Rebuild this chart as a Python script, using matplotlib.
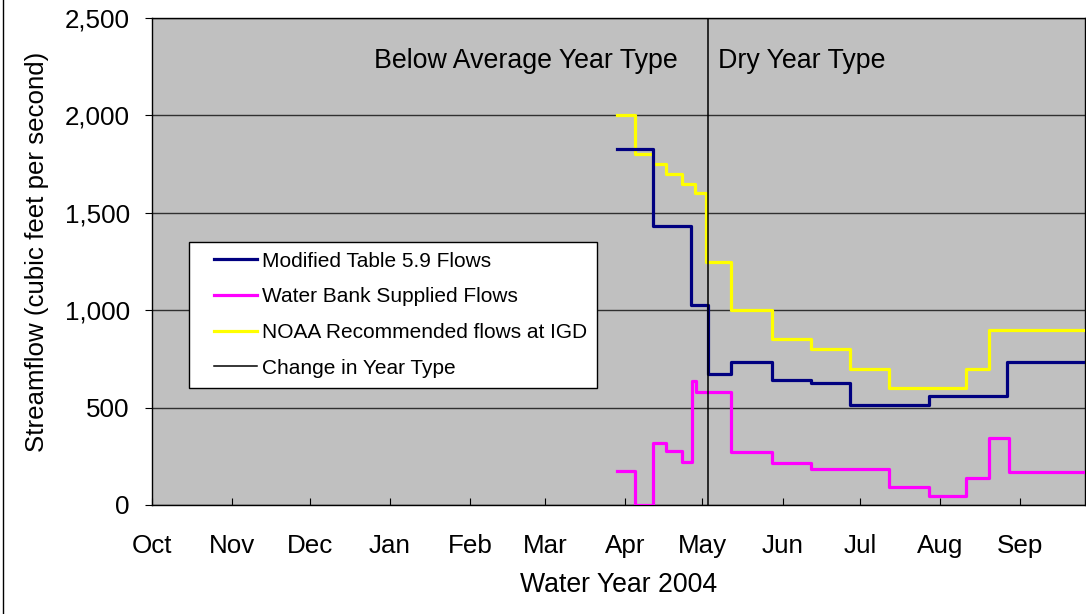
import numpy as np
import matplotlib.pyplot as plt
from matplotlib.lines import Line2D
from matplotlib.legend_handler import HandlerLine2D
from matplotlib.ticker import FuncFormatter

plt.rcParams['font.family'] = ['Liberation Sans', 'DejaVu Sans']

# days counted from 1 Oct 2003 (start of water year 2004)
month_labels = ['Oct', 'Nov', 'Dec', 'Jan', 'Feb', 'Mar', 'Apr', 'May', 'Jun', 'Jul', 'Aug', 'Sep']
month_starts = (np.arange('2003-10', '2004-10', dtype='datetime64[M]').astype('datetime64[D]')
                - np.datetime64('2003-10-01')).astype(int)

# step series: day the value starts, value (cfs)
modified_days = [180, 194, 208.5, 215, 224, 240, 255, 270, 300.5, 331, 361]
modified_cfs = [1825, 1430, 1025, 675, 735, 640, 625, 515, 560, 735, 735]

bank_days = [180, 187, 194, 199, 205, 209, 210.5, 224, 240, 255, 285, 300.5, 315, 324, 331.5, 361]
bank_cfs = [175, 0, 320, 275, 220, 635, 580, 270, 215, 185, 90, 45, 140, 345, 170, 170]

noaa_days = [180, 187, 194, 199, 205, 210, 214.5, 224, 240, 255, 270, 285, 315, 324, 361]
noaa_cfs = [2000, 1800, 1750, 1700, 1650, 1600, 1250, 1000, 850, 800, 700, 600, 700, 900, 900]

change_day = 215

fig = plt.figure(figsize=(10.86, 6.14), dpi=100)
ax = fig.add_axes([152/1086, 1-505/614, 933/1086, 487/614])
ax.set_facecolor('#C0C0C0')

ax.plot(modified_days, modified_cfs, drawstyle='steps-post', color='#000080', lw=2.3,
        label='Modified Table 5.9 Flows', zorder=4)
ax.plot(bank_days, bank_cfs, drawstyle='steps-post', color='#FF00FF', lw=2.3,
        label='Water Bank Supplied Flows', zorder=3)
ax.plot(noaa_days, noaa_cfs, drawstyle='steps-post', color='#FFFF00', lw=2.3,
        label='NOAA Recommended flows at IGD', zorder=3)
ax.axvline(change_day, color='black', lw=1.1, label='Change in Year Type', zorder=5)

ax.set_xlim(0, 361)
ax.set_ylim(0, 2500)
ax.set_yticks(np.arange(0, 2501, 500))
ax.yaxis.set_major_formatter(FuncFormatter(lambda v, p: f'{int(v):,}'))
ax.set_xticks(month_starts)
ax.set_xticklabels(month_labels)
ax.grid(axis='y', color='#303030', lw=1)
ax.set_axisbelow(True)
ax.tick_params(axis='x', direction='in', length=5, pad=21, labelsize=18.7)
ax.tick_params(axis='y', direction='out', length=5, pad=11, labelsize=18.7)
for s in ax.spines.values():
    s.set_color('black')
    s.set_linewidth(1)

ax.set_xlabel('Water Year 2004', fontsize=19.2, labelpad=10)
ax.set_ylabel('Streamflow (cubic feet per second)', fontsize=18.6)
ax.yaxis.set_label_coords(-0.11, 0.52)

ax.text(0.5638, 0.912, 'Below Average Year Type', transform=ax.transAxes, ha='right', va='center', fontsize=19.3)
ax.text(0.6066, 0.912, 'Dry Year Type', transform=ax.transAxes, ha='left', va='center', fontsize=19.3)

leg = ax.legend(loc='upper left', bbox_to_anchor=(37/933, 1-(242-18)/487), fontsize=15,
                frameon=True, fancybox=False, framealpha=1, edgecolor='black',
                handlelength=2.8, handletextpad=0.25, labelspacing=0.8, borderpad=0.47,
                borderaxespad=0, handler_map={Line2D: HandlerLine2D(xpad=0.72)})
leg.get_frame().set_linewidth(1)

fig.add_artist(Line2D([3/1086, 3/1086], [0, 1], color='black', lw=1))

fig.savefig('out.png', dpi=100)
